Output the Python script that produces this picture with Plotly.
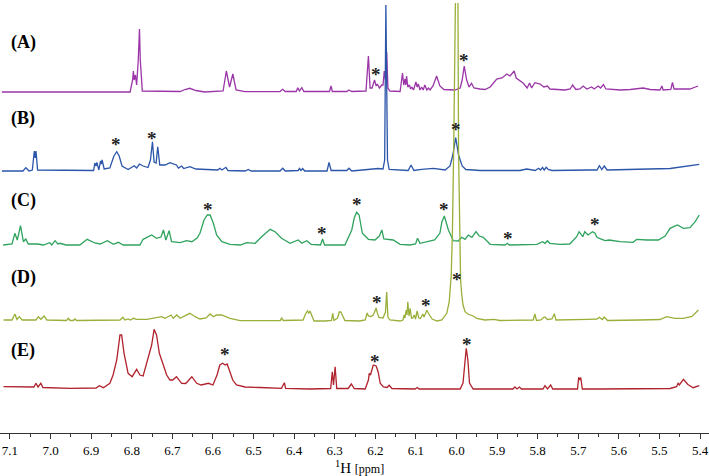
import plotly.graph_objects as go

# ---- data: (chemical shift ppm, intensity) ----
A_pts = [(7.120, 0), (6.878, 0), (6.804, 0), (6.798, 12), (6.796, 21), (6.794, 12), (6.791, 17), (6.788, 7),
         (6.784, 32), (6.781, 63), (6.779, 32), (6.774, 1), (6.681, 0.5), (6.669, 2.5), (6.657, 3.7), (6.642, 1.5),
         (6.620, 0), (6.575, 1), (6.567, 21), (6.559, 5), (6.551, 18), (6.543, 2), (6.521, 0.3), (6.435, 0.5),
         (6.428, 2.7), (6.422, 0.5), (6.395, 0.5), (6.391, 4.3), (6.387, 1), (6.381, 4.3), (6.376, 0.5),
         (6.313, 0.5), (6.309, 6), (6.306, 0.5), (6.270, 0.5), (6.265, 2), (6.258, 0.5), (6.223, 1), (6.217, 36),
         (6.213, 4), (6.208, 4), (6.202, 12), (6.198, 6), (6.195, 8), (6.190, 4), (6.184, 7), (6.181, 7),
         (6.178, 21), (6.175, 12), (6.172, 40), (6.169, 4), (6.164, 1), (6.139, 0.5), (6.133, 19), (6.130, 7),
         (6.127, 13), (6.125, 7), (6.123, 16), (6.120, 5), (6.116, 7), (6.113, 3), (6.110, 5), (6.106, 2),
         (6.100, 10), (6.097, 5), (6.094, 8), (6.090, 2), (6.086, 5), (6.082, 2), (6.078, 7), (6.073, 2),
         (6.069, 4), (6.065, 2), (6.058, 6), (6.049, 16), (6.041, 6), (6.031, 2.5), (6.004, 2), (5.991, 4),
         (5.986, 12), (5.981, 26), (5.975, 12), (5.969, 5), (5.963, 8.7), (5.957, 4), (5.942, 3), (5.930, 2.5),
         (5.917, 5), (5.901, 13), (5.888, 14), (5.876, 18), (5.868, 16), (5.858, 21), (5.853, 14), (5.836, 9),
         (5.826, 4), (5.820, 9), (5.815, 4), (5.807, 9.3), (5.794, 8), (5.785, 5), (5.776, 6), (5.770, 3),
         (5.733, 2), (5.720, 3), (5.714, 7), (5.706, 2.5), (5.696, 3), (5.688, 6), (5.679, 3), (5.667, 5),
         (5.661, 3), (5.651, 6), (5.645, 4), (5.638, 7.3), (5.632, 3), (5.597, 2), (5.572, 2.5), (5.540, 4),
         (5.523, 2.5), (5.499, 2), (5.494, 6), (5.491, 2), (5.472, 2.5), (5.468, 9.5), (5.464, 3), (5.425, 3),
         (5.405, 6)]

B_pts = [(7.120, 0), (7.068, 0), (7.061, 3.3), (7.053, 0), (7.045, 1), (7.040, 20), (7.038, 13), (7.036, 20),
         (7.032, 1), (6.894, 0.5), (6.891, 8), (6.888, 5), (6.886, 8.7), (6.881, 1), (6.877, 10), (6.875, 7),
         (6.873, 11), (6.868, 2), (6.854, 3), (6.844, 15), (6.837, 19.3), (6.831, 15), (6.824, 5), (6.809, 1.5),
         (6.794, 5.3), (6.788, 3), (6.781, 7), (6.772, 5), (6.760, 3.5), (6.754, 11), (6.749, 29.3), (6.745, 9),
         (6.740, 8), (6.736, 24.3), (6.731, 6), (6.718, 6), (6.706, 8.3), (6.696, 6.5), (6.690, 6), (6.685, 3),
         (6.677, 5), (6.672, 2.5), (6.657, 4.3), (6.642, 2), (6.588, 1), (6.583, 2.7), (6.578, 1), (6.568, 3.7),
         (6.563, 0.5), (6.521, 0), (6.513, 1.5), (6.506, 0), (6.435, 0), (6.428, 2.7), (6.422, 0), (6.390, 0.5),
         (6.387, 2.5), (6.383, 0.5), (6.379, 2.5), (6.374, 0), (6.319, 0), (6.314, 8.7), (6.309, 0.5),
         (6.270, 0.5), (6.265, 2.7), (6.258, 0), (6.193, 2.5), (6.181, 2), (6.177, 11), (6.174, 166),
         (6.170, 11), (6.166, 1.5), (6.119, 0.5), (6.112, 6), (6.105, 0.5), (6.086, 1.7), (6.057, 2.7),
         (6.028, 1), (6.016, 5), (6.009, 16), (6.002, 33.5), (5.995, 16), (5.986, 5), (5.977, 1.5), (5.942, 0.5),
         (5.844, 0.5), (5.827, 2), (5.806, 0.5), (5.798, 2.7), (5.793, 1), (5.788, 3.7), (5.784, 1),
         (5.779, 3.7), (5.774, 1.5), (5.765, 0.5), (5.675, 1), (5.654, 1), (5.648, 5.3), (5.642, 1.5),
         (5.636, 5), (5.629, 1), (5.474, 2.5), (5.402, 6.7)]

C_pts = [(7.117, 0), (7.095, 1), (7.088, 11.7), (7.082, 5), (7.074, 19.3), (7.067, 3.3), (7.061, 6), (7.055, 1),
         (7.032, 1), (7.018, 0), (7.002, 2.3), (6.997, 0), (6.989, 4.3), (6.982, 1), (6.977, 1.7), (6.962, 0),
         (6.928, 0), (6.910, 5.7), (6.891, 2), (6.878, 1), (6.860, 4.3), (6.845, 0.7), (6.833, 2.7), (6.821, 0),
         (6.780, 0), (6.772, 5.7), (6.751, 10), (6.739, 6.7), (6.728, 8), (6.722, 15), (6.716, 5), (6.708, 14.3),
         (6.702, 3.3), (6.681, 2.3), (6.665, 4.3), (6.652, 3.3), (6.639, 7), (6.632, 11.7), (6.622, 25),
         (6.614, 30), (6.607, 30), (6.599, 21.7), (6.591, 10), (6.578, 3.3), (6.558, 0.7), (6.533, 0),
         (6.517, 2.3), (6.496, 1.7), (6.480, 8.3), (6.459, 15.7), (6.447, 13.3), (6.431, 6.7), (6.410, 1.7),
         (6.390, 5), (6.381, 1.7), (6.369, 4.3), (6.358, 0.7), (6.335, 0), (6.330, 6), (6.325, 0), (6.275, 0),
         (6.258, 15), (6.252, 27), (6.246, 32.7), (6.240, 30), (6.232, 11.7), (6.217, 5.7), (6.201, 5),
         (6.190, 9), (6.184, 15), (6.179, 6), (6.156, 5), (6.139, 0.7), (6.115, 0), (6.101, 1), (6.096, 6.7),
         (6.090, 1.7), (6.054, 5), (6.041, 11.7), (6.036, 23), (6.030, 29), (6.025, 23), (6.020, 15),
         (6.008, 4.3), (5.996, 4), (5.987, 7.7), (5.979, 5.7), (5.971, 10), (5.962, 7.7), (5.952, 13.3),
         (5.944, 9), (5.934, 7.7), (5.917, 0.7), (5.880, 0), (5.875, 1.7), (5.870, 0), (5.844, 0), (5.802, 0.7),
         (5.788, 3.3), (5.782, 1.7), (5.776, 4.3), (5.770, 1.7), (5.745, 0.7), (5.721, 1), (5.704, 8.3),
         (5.698, 13.3), (5.689, 8.3), (5.684, 13.3), (5.676, 10), (5.665, 13.3), (5.659, 11.7), (5.654, 7.7),
         (5.642, 5.7), (5.634, 4.3), (5.624, 5), (5.614, 4.3), (5.597, 3.3), (5.565, 2.7), (5.556, 5.7),
         (5.531, 5), (5.503, 5), (5.486, 9), (5.474, 16.7), (5.456, 20), (5.441, 16.7), (5.425, 17.3),
         (5.412, 23.3), (5.402, 30)]

D_pts = [(7.116, 1), (7.095, 1), (7.088, 7), (7.083, 1.5), (7.077, 4.3), (7.070, 1), (7.036, 1), (7.030, 4.3),
         (7.024, 1.7), (7.016, 5), (7.009, 1), (6.961, 0.5), (6.956, 2.7), (6.952, 0.5), (6.944, 0.5),
         (6.940, 2), (6.936, 0.5), (6.878, 1), (6.829, 1), (6.822, 3.7), (6.817, 1), (6.809, 2), (6.803, 1),
         (6.796, 2.7), (6.788, 1.7), (6.763, 1.7), (6.726, 4.3), (6.718, 2.7), (6.703, 6), (6.698, 2.7),
         (6.689, 6), (6.681, 2.7), (6.669, 5), (6.657, 7.7), (6.644, 4.3), (6.632, 2), (6.617, 3), (6.607, 7),
         (6.599, 4.3), (6.591, 6), (6.579, 6), (6.568, 4), (6.558, 2.7), (6.533, 0.3), (6.460, 0), (6.434, 0.5),
         (6.431, 3.3), (6.427, 0.5), (6.378, 1), (6.372, 7), (6.367, 10), (6.364, 8), (6.361, 10), (6.356, 4),
         (6.351, 0), (6.324, 0), (6.308, 0.5), (6.305, 7.7), (6.302, 0.5), (6.293, 3), (6.289, 9), (6.285, 9),
         (6.280, 4), (6.275, 0.5), (6.238, 0), (6.225, 1), (6.220, 8), (6.217, 5), (6.211, 4.5), (6.205, 6),
         (6.201, 10), (6.198, 13), (6.195, 8), (6.191, 3.5), (6.181, 3), (6.177, 7), (6.175, 9), (6.172, 29),
         (6.169, 4), (6.164, 1), (6.139, 0), (6.132, 1), (6.129, 6), (6.127, 3), (6.124, 11), (6.122, 6),
         (6.120, 19.3), (6.117, 5), (6.114, 12.7), (6.111, 3), (6.108, 3), (6.104, 6), (6.101, 2), (6.097, 10),
         (6.093, 3), (6.089, 2.5), (6.083, 7), (6.080, 4), (6.073, 10.7), (6.068, 7), (6.060, 2), (6.048, 0),
         (6.036, 1), (6.024, 7.7), (6.018, 19), (6.013, 46), (6.010, 91), (6.007, 171), (6.005, 480),
         (5.998, 480), (5.995, 171), (5.993, 91), (5.990, 41), (5.987, 26), (5.984, 16), (5.979, 9.3),
         (5.972, 7), (5.959, 5), (5.950, 2.7), (5.930, 1), (5.908, 1.7), (5.893, 0.5), (5.819, 0.5),
         (5.811, 1), (5.807, 7), (5.803, 0.5), (5.792, 1), (5.786, 3.5), (5.782, 4), (5.776, 1.5), (5.765, 2),
         (5.759, 7.3), (5.755, 1), (5.729, 1), (5.698, 1.7), (5.676, 1.7), (5.654, 2), (5.648, 3.7), (5.641, 1.5),
         (5.636, 4), (5.628, 0.5), (5.573, 0.5), (5.548, 1), (5.499, 1.5), (5.482, 4.3), (5.462, 2.7),
         (5.441, 2.7), (5.420, 4.5), (5.404, 11)]

E_pts = [(7.116, 2.3), (7.075, 2), (7.041, 2), (7.036, 5.7), (7.031, 2), (7.024, 5.7), (7.019, 1.5),
         (6.952, 0.7), (6.888, 1), (6.880, 3.3), (6.870, 1.3), (6.854, 5.7), (6.846, 14), (6.837, 29),
         (6.832, 47), (6.829, 54), (6.825, 54), (6.822, 41), (6.819, 35.7), (6.809, 15.7), (6.799, 12.3),
         (6.788, 19.7), (6.780, 14), (6.772, 13), (6.765, 23), (6.759, 32.3), (6.751, 44), (6.745, 59.7),
         (6.739, 54), (6.732, 35.7), (6.722, 22.3), (6.714, 14), (6.706, 9), (6.699, 9), (6.690, 12.3),
         (6.677, 5.7), (6.667, 5.5), (6.652, 12.3), (6.640, 5.7), (6.629, 4), (6.611, 5.7), (6.600, 4),
         (6.590, 14), (6.583, 24), (6.576, 25.7), (6.570, 24), (6.565, 25), (6.558, 17), (6.551, 8.7),
         (6.542, 4), (6.521, 2), (6.484, 1.5), (6.431, 0.7), (6.427, 4), (6.424, 6.3), (6.421, 0.7),
         (6.361, 0), (6.310, 0.5), (6.306, 17.3), (6.303, 4), (6.299, 22.3), (6.295, 0.5), (6.267, 0.5),
         (6.259, 5), (6.252, 0.5), (6.225, 0), (6.217, 9), (6.215, 15.7), (6.212, 14), (6.205, 24),
         (6.198, 23), (6.193, 17), (6.188, 5.7), (6.180, 2), (6.171, 1.5), (6.166, 3.7), (6.159, 0.5),
         (6.102, 0), (6.097, 1.5), (6.092, 0), (5.991, 0), (5.984, 6), (5.979, 29), (5.976, 40.7),
         (5.972, 29), (5.968, 6), (5.959, 0), (5.861, 0), (5.856, 2), (5.851, 0), (5.845, 2), (5.840, 0),
         (5.787, 0), (5.782, 3.3), (5.776, 0), (5.768, 4), (5.763, 0), (5.702, 0), (5.699, 11.7),
         (5.696, 9), (5.694, 11.5), (5.690, 0), (5.647, 0), (5.548, 0), (5.474, 0.5), (5.458, 2.3),
         (5.454, 5.7), (5.451, 4), (5.441, 9.7), (5.430, 4.5), (5.417, 1.3), (5.402, 3.3)]

spectrum_names = ["(A)", "(B)", "(C)", "(D)", "(E)"]
spectra = [A_pts, B_pts, C_pts, D_pts, E_pts]

# asterisk marks: (ppm, spectrum index)
star_ppm = [6.199, 5.981, 6.839, 6.750, 6.002, 6.613, 6.331, 6.245, 6.031, 5.874, 5.659,
            6.197, 6.075, 6.000, 6.570, 6.201, 5.974]
star_spec = [0, 0, 1, 1, 1, 2, 2, 2, 2, 2, 2, 3, 3, 3, 4, 4, 4]

tick_vals = [7.1, 7.0, 6.9, 6.8, 6.7, 6.6, 6.5, 6.4, 6.3, 6.2, 6.1, 6.0, 5.9, 5.8, 5.7, 5.6, 5.5, 5.4]
tick_text = ["%.1f" % v for v in tick_vals]

# ---- styling / layout ----
offsets = [341, 262, 188, 112, 44]
colors = ["#9b35a8", "#2a55a8", "#2fa35e", "#98b03a", "#b0222c"]
label_py = [42, 118, 200, 277, 350]
star_py = [70, 56.5, 140.7, 134.3, 125, 205, 229.3, 201, 205.7, 235, 221, 298.3, 301, 275, 350.7, 357.3, 340]
SERIF = "Times New Roman, Liberation Serif, serif"

PLOT_TOP, PLOT_BOT = 3, 433
H = PLOT_BOT - PLOT_TOP


def py2paper(py):
    return (PLOT_BOT - py) / H


fig = go.Figure()
for pts, off, col, name in zip(spectra, offsets, colors, spectrum_names):
    fig.add_trace(go.Scatter(
        x=[p[0] for p in pts], y=[p[1] + off for p in pts],
        mode="lines", line=dict(color=col, width=1.3), name=name,
        showlegend=False, hoverinfo="skip"))

ann = []
for name, py in zip(spectrum_names, label_py):
    ann.append(dict(text="<b>" + name + "</b>", xref="paper", yref="paper", x=9 / 709, y=py2paper(py),
                    xanchor="left", yanchor="middle", showarrow=False,
                    font=dict(family=SERIF, size=18, color="black")))
for sx, py in zip(star_ppm, star_py):
    ann.append(dict(text="<b>*</b>", xref="x", yref="paper", x=sx, y=py2paper(py),
                    xanchor="center", yanchor="middle", showarrow=False, yshift=-4,
                    font=dict(family=SERIF, size=19, color="#222222")))
ann.append(dict(text="<sup>1</sup>H <span style='font-size:12px'>[ppm]</span>", xref="x", yref="paper",
                x=6.24, y=py2paper(467), xanchor="center", yanchor="middle", showarrow=False,
                font=dict(family=SERIF, size=15, color="black")))

fig.update_layout(
    width=709, height=476,
    margin=dict(l=0, r=0, t=PLOT_TOP, b=476 - PLOT_BOT),
    paper_bgcolor="white", plot_bgcolor="white",
    annotations=ann,
    xaxis=dict(range=[7.1246, 5.378], showgrid=False, zeroline=False,
               showline=True, linecolor="#333333", linewidth=1,
               ticks="outside", ticklen=5, tickcolor="#333333",
               tickvals=tick_vals, ticktext=tick_text,
               tickfont=dict(family=SERIF, size=13, color="black"),
               minor=dict(tickvals=[round(v - 0.05, 2) for v in tick_vals] + [7.15],
                          ticks="outside", ticklen=3, tickcolor="#333333")),
    yaxis=dict(range=[0, H], visible=False, fixedrange=True),
)

fig.write_html("out.html", config={"displayModeBar": False, "staticPlot": True},
               post_script="document.body.style.margin='0';document.body.style.padding='0';")
